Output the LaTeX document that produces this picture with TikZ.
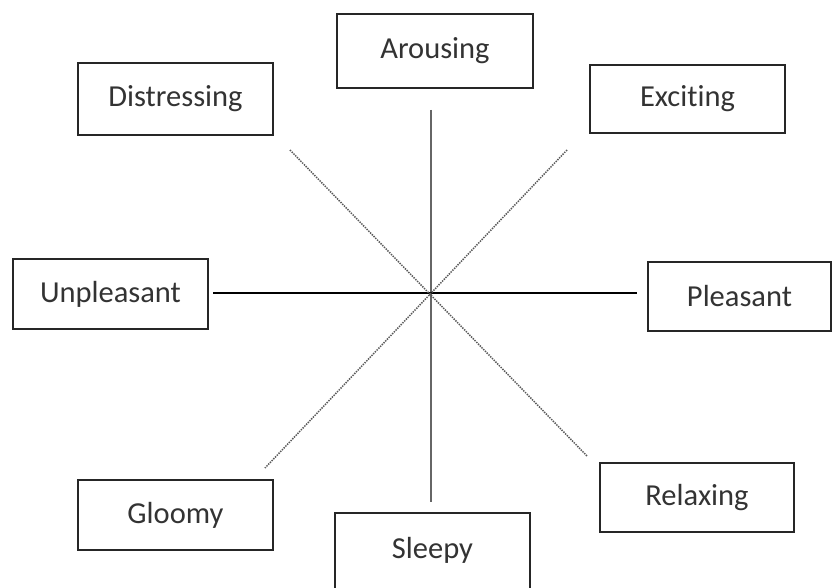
\documentclass[tikz,border=0pt]{standalone}
\usepackage{fontspec}
\setmainfont{Carlito}[Ligatures=NoCommon]
\begin{document}
\begin{tikzpicture}[x=1pt,y=-1pt,
  box/.style={draw=black!85, line width=1.5pt, fill=white, text=black!80,
    font=\fontsize{30.5}{33}\selectfont, inner sep=0pt},
  axis/.style={line width=1.3pt, black},
  vaxis/.style={line width=2.4pt, black!60},
  diag/.style={line width=1.5pt, black!65, dash pattern=on 1.4pt off 1.1pt}]
\useasboundingbox (0,0) rectangle (832,588);
\fill[white] (0,0) rectangle (832,588);

% axis end points and centre
\coordinate (c) at (431,293);
\coordinate (vt) at (431,110);
\coordinate (vb) at (431,502);
\coordinate (hl) at (213,293);
\coordinate (hr) at (637,293);
\coordinate (d1a) at (290,150);
\coordinate (d1b) at (587,456);
\coordinate (d2a) at (567,150);
\coordinate (d2b) at (265,468);

\draw[vaxis] (vt) -- (vb);
\draw[axis] (hl) -- (hr);
\draw[diag] (d1a) -- (d1b);
\draw[diag] (d2a) -- (d2b);

% mood boxes
\node[box, minimum width=196, minimum height=74] (arousing) at (435,51) {Arousing};
\node[box, minimum width=195, minimum height=72] (distressing) at (175.5,99) {Distressing};
\node[box, minimum width=195, minimum height=68] (exciting) at (687.5,99) {Exciting};
\node[box, minimum width=195, minimum height=70] (unpleasant) at (110.5,294) {Unpleasant};
\node[box, minimum width=183, minimum height=69] (pleasant) at (739.5,296.5) {Pleasant};
\node[box, minimum width=195, minimum height=70] (gloomy) at (175.5,515) {Gloomy};
\node[box, minimum width=194, minimum height=69] (relaxing) at (697,497.5) {Relaxing};
\node[box, minimum width=195, minimum height=84] (sleepy) at (432.5,555) {};
\node[text=black!80, font=\fontsize{30.5}{33}\selectfont] (sleepylabel) at (432.5,550) {Sleepy};
\end{tikzpicture}
\end{document}
